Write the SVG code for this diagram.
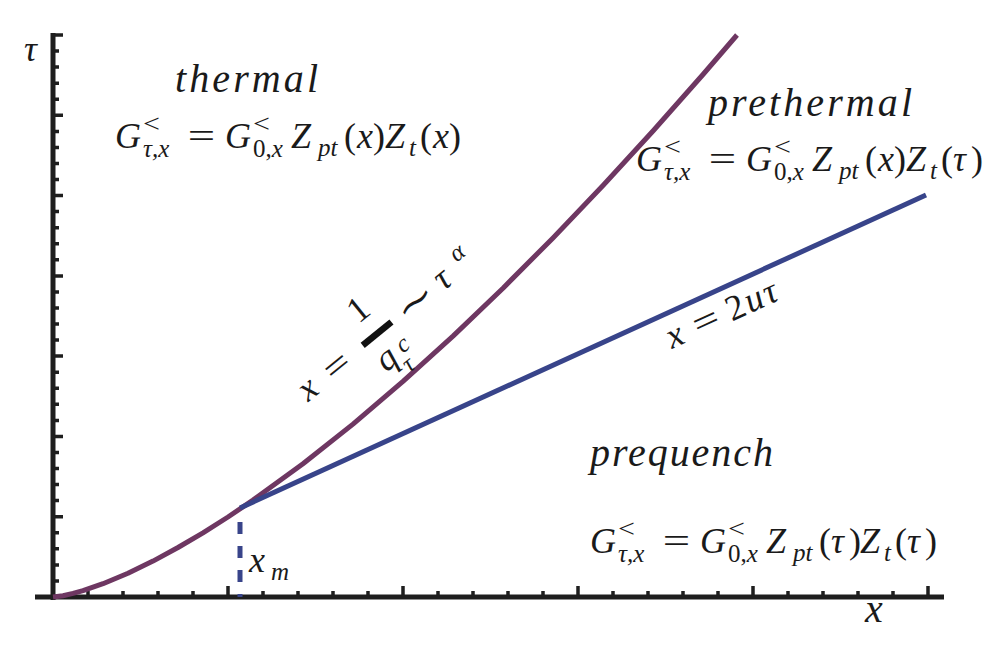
<svg xmlns="http://www.w3.org/2000/svg" width="1003" height="659" viewBox="0 0 1003 659">
<style>
text{font-family:"Liberation Serif","DejaVu Serif",serif;fill:#1a1a1a;font-size:36px}
.mi{font-style:italic}
.s{font-size:25px}
.lbl{font-size:40px;font-style:italic}
.axis{stroke:#1e1e1e;stroke-width:5;fill:none}
.tick{stroke:#1e1e1e;stroke-width:3.5;fill:none}
.purple{stroke:#6e3762;stroke-width:5;fill:none;stroke-linejoin:round}
.blue{stroke:#38448a;stroke-width:5;fill:none}
</style>
<defs>
<g id="lhs">
<text class="mi" x="0">G</text>
<text class="s" x="28" y="-16" transform="translate(28,0) scale(1.2,1) translate(-28,0)">&lt;</text>
<text class="s mi" x="28" y="9">τ,x</text>
<text x="86.5" text-anchor="middle" transform="translate(86.5,0) scale(1.35,1) translate(-86.5,0)">=</text>
<text class="mi" x="110">G</text>
<text class="s" x="138" y="-16" transform="translate(138,0) scale(1.2,1) translate(-138,0)">&lt;</text>
<text class="s" x="138" y="9">0,<tspan font-style="italic">x</tspan></text>
<text class="mi" x="176">Z</text>
<text class="s mi" x="203" y="8" font-size="28">pt</text>
</g>
</defs>
<rect width="1003" height="659" fill="#ffffff"/>
<g id="axes">
<path class="axis" d="M53,33 V600 M35,597 H944"/>
<path class="tick" d="M53,35 H63 M53,51.1 H59 M53,67.1 H59 M53,83.2 H59 M53,99.2 H59 M53,115.3 H63 M53,131.4 H59 M53,147.4 H59 M53,163.5 H59 M53,179.5 H59 M53,195.6 H63 M53,211.6 H59 M53,227.7 H59 M53,243.8 H59 M53,259.8 H59 M53,275.9 H63 M53,291.9 H59 M53,308 H59 M53,324 H59 M53,340.1 H59 M53,356.1 H63 M53,372.2 H59 M53,388.3 H59 M53,404.3 H59 M53,420.4 H59 M53,436.4 H63 M53,452.5 H59 M53,468.5 H59 M53,484.6 H59 M53,500.6 H59 M53,516.7 H63 M53,532.8 H59 M53,548.8 H59 M53,564.9 H59 M53,580.9 H59"/>
<path class="tick" d="M88,597 V591 M123,597 V591 M158,597 V591 M193,597 V591 M228,597 V586 M263,597 V591 M298,597 V591 M333,597 V591 M368,597 V591 M403,597 V586 M438,597 V591 M473,597 V591 M508,597 V591 M543,597 V591 M578,597 V586 M613,597 V591 M648,597 V591 M683,597 V591 M718,597 V591 M753,597 V586 M788,597 V591 M823,597 V591 M858,597 V591 M893,597 V591 M928,597 V586"/>
<text id="tau-label" class="mi" x="24" y="61" font-size="42">τ</text>
<text id="x-label" class="lbl" x="865" y="622">x</text>
</g>
<g id="connectors">
<polyline id="thermal-boundary" class="purple" points="53,597 63,595.7 73,593.4 83,590.6 103,583.7 128,573.2 153,561.1 178,547.5 203,532.8 228,517 253,500.1 303,463.7 353,424.1 403,381.4 453,336.1 503,288.2 553,237.9 603,185.5 653,131 703,74.5 737,35"/>
<line id="prethermal-boundary" class="blue" x1="240" y1="508" x2="926" y2="195"/>
<line id="xm-marker" class="blue" x1="240" y1="510" x2="240" y2="597" stroke-dasharray="12 12" stroke-dashoffset="-12"/>
</g>
<g id="thermal">
<text class="lbl" x="175" y="92" textLength="143" lengthAdjust="spacing">thermal</text>
<g transform="translate(115,148)">
<use href="#lhs"/>
<text x="229">(</text><text class="mi" x="242">x</text><text x="258">)</text>
<text class="mi" x="270">Z</text><text class="s mi" x="294" y="8" font-size="28">t</text>
<text x="305">(</text><text class="mi" x="318">x</text><text x="334">)</text>
</g>
</g>
<g id="prethermal">
<text class="lbl" x="708" y="116" textLength="204" lengthAdjust="spacing">prethermal</text>
<g transform="translate(636,171)">
<use href="#lhs"/>
<text x="229">(</text><text class="mi" x="242">x</text><text x="258">)</text>
<text class="mi" x="270">Z</text><text class="s mi" x="294" y="8" font-size="28">t</text>
<text x="305">(</text><text class="mi" x="317">τ</text><text x="335">)</text>
</g>
</g>
<g id="prequench">
<text class="lbl" x="590" y="466" textLength="183" lengthAdjust="spacing">prequench</text>
<g transform="translate(590,553)">
<use href="#lhs"/>
<text x="229">(</text><text class="mi" x="241">τ</text><text x="259">)</text>
<text class="mi" x="270">Z</text><text class="s mi" x="294" y="8" font-size="28">t</text>
<text x="305">(</text><text class="mi" x="317">τ</text><text x="335">)</text>
</g>
</g>
<g id="xm">
<text class="mi" x="249" y="572" font-size="38">x</text>
<text class="s mi" x="271" y="580" font-size="27">m</text>
</g>
<g id="label-2ut" transform="translate(672,349) rotate(-24.5)">
<text class="mi" x="0" y="0" font-size="40">x</text>
<text x="29" y="0" font-size="40" transform="translate(29,0) scale(1.3,1) translate(-29,0)">=</text>
<text x="66" y="0" font-size="40">2</text>
<text class="mi" x="86" y="0" font-size="40">u</text>
<text class="mi" x="106" y="0" font-size="40">τ</text>
</g>
<g id="label-q" transform="translate(309,403) rotate(-39)">
<text class="mi" x="0" y="-1" font-size="40">x</text>
<text x="45" y="0" text-anchor="middle" font-size="40" transform="translate(45,0) scale(1.3,1) translate(-45,0)">=</text>
<text x="97" y="-30" text-anchor="middle" font-size="38">1</text>
<line x1="78" y1="-11" x2="115" y2="-11" stroke="#111" stroke-width="6.5"/>
<text class="mi" x="79" y="25" font-size="40">q</text>
<text class="s mi" x="104" y="21" font-size="27">c</text>
<text class="s mi" x="97" y="40" font-size="27">τ</text>
<text x="146" y="0" text-anchor="middle" font-size="40" transform="translate(146,0) scale(1.4,1) translate(-146,0)">∼</text>
<text class="mi" x="175" y="-2" font-size="40">τ</text>
<text class="s mi" x="203" y="-16" font-size="27">α</text>
</g>
</svg>
